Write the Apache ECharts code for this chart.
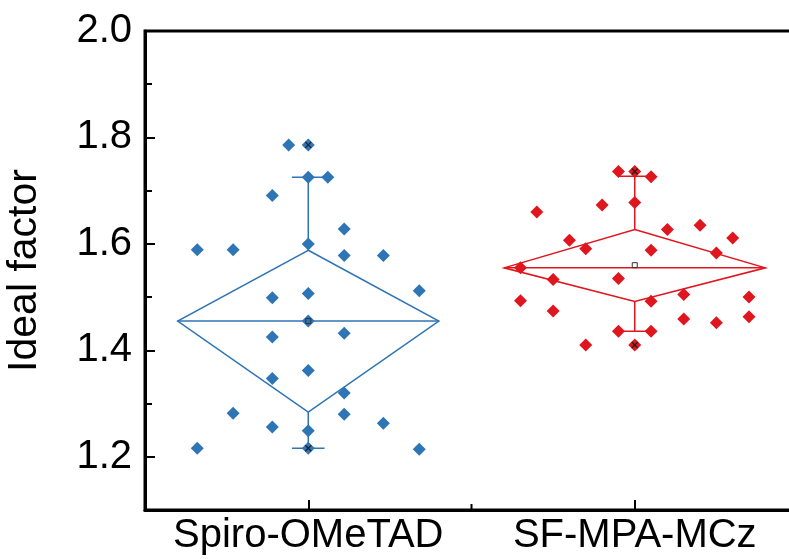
<!DOCTYPE html>
<html>
<head>
<meta charset="utf-8">
<script src="https://cdn.jsdelivr.net/npm/echarts@6/dist/echarts.min.js"></script>
<style>
html,body{margin:0;padding:0;background:#fff;}
#chart{width:789px;height:559px;}
</style>
</head>
<body>
<div id="chart"></div>
<script>
// ---- data ----
var categories = ['Spiro-OMeTAD', 'SF-MPA-MCz'];
var yTicks = [1.2, 1.4, 1.6, 1.8, 2.0];
var yMinorTicks = [1.3, 1.5, 1.7, 1.9];

// Spiro-OMeTAD: horizontal jitter (category units) and values
var spiroJitter = [-0.06, 0, 0, 0.06, -0.11, 0.11, 0, -0.34, -0.23, 0.11, 0.23, 0.34, 0, -0.11,
                   0, -0.11, 0.11, 0, -0.11, 0.11, -0.23, 0.11, -0.11, 0.23, 0, -0.34, 0, 0.34];
var spiroValues = [1.786, 1.786, 1.725, 1.725, 1.691, 1.628, 1.600, 1.589, 1.589, 1.578, 1.578, 1.512, 1.507, 1.499,
                   1.455, 1.425, 1.432, 1.362, 1.347, 1.320, 1.282, 1.280, 1.256, 1.263, 1.249, 1.216, 1.216, 1.214];

// SF-MPA-MCz
var sfJitter = [-0.05, 0, 0.05, 0, -0.30, -0.10, 0.10, 0.20, 0.30, -0.20, -0.15, 0.05, 0.25, -0.35,
                -0.25, -0.05, 0.15, 0.05, -0.35, 0.35, -0.25, 0.15, 0.25, 0.35, -0.05, 0.05, -0.15, 0];
var sfValues = [1.736, 1.736, 1.726, 1.678, 1.660, 1.673, 1.627, 1.635, 1.611, 1.607, 1.591, 1.588, 1.583, 1.555,
                1.533, 1.535, 1.505, 1.492, 1.493, 1.500, 1.474, 1.459, 1.452, 1.463, 1.436, 1.436, 1.410, 1.410];

// box statistics per group
var q1 = [1.284, 1.492];
var q3 = [1.588, 1.627];
var median = [1.455, 1.555];
var mean = [1.455, 1.560];
var whiskerLow = [1.216, 1.436];
var whiskerHigh = [1.725, 1.727];
var minVal = [1.216, 1.410];
var maxVal = [1.786, 1.736];

// ---- styles ----
var colors = ['#2e75b6', '#e0161e'];
var FONT = "'Liberation Sans', Arial, sans-serif";
var diamondHalf = 0.4;
var capHalf = 0.05;

function pts(jit, vals, center) {
  return vals.map(function (v, i) { return [center + jit[i], v]; });
}

var boxData = categories.map(function (c, i) {
  return [i + 1, q1[i], q3[i], median[i], mean[i], whiskerLow[i], whiskerHigh[i], minVal[i], maxVal[i], i];
});

function renderBox(params, api) {
  var cx = api.value(0);
  var gi = api.value(9);
  var col = colors[gi];
  var P = function (x, y) { return api.coord([x, y]); };
  var top = P(cx, api.value(2)), bot = P(cx, api.value(1));
  var lft = P(cx - diamondHalf, api.value(3)), rgt = P(cx + diamondHalf, api.value(3));
  var wh = P(cx, api.value(6)), wl = P(cx, api.value(5));
  var chL = P(cx - capHalf, api.value(6)), chR = P(cx + capHalf, api.value(6));
  var clL = P(cx - capHalf, api.value(5)), clR = P(cx + capHalf, api.value(5));
  var mn = P(cx, api.value(7)), mx = P(cx, api.value(8));
  var me = P(cx, api.value(4));
  var ls = { stroke: col, lineWidth: 1.5, fill: null };
  var children = [
    { type: 'polygon', shape: { points: [top, rgt, bot, lft] }, style: ls },
    { type: 'line', shape: { x1: lft[0], y1: lft[1], x2: rgt[0], y2: rgt[1] }, style: ls },
    { type: 'line', shape: { x1: top[0], y1: top[1], x2: wh[0], y2: wh[1] }, style: ls },
    { type: 'line', shape: { x1: bot[0], y1: bot[1], x2: wl[0], y2: wl[1] }, style: ls },
    { type: 'line', shape: { x1: chL[0], y1: chL[1], x2: chR[0], y2: chR[1] }, style: ls },
    { type: 'line', shape: { x1: clL[0], y1: clL[1], x2: clR[0], y2: clR[1] }, style: ls }
  ];
  [mn, mx].forEach(function (p) {
    var s = 3;
    children.push({ type: 'line', shape: { x1: p[0] - s, y1: p[1] - s, x2: p[0] + s, y2: p[1] + s }, style: { stroke: '#222', lineWidth: 1.2 } });
    children.push({ type: 'line', shape: { x1: p[0] - s, y1: p[1] + s, x2: p[0] + s, y2: p[1] - s }, style: { stroke: '#222', lineWidth: 1.2 } });
  });
  children.push({ type: 'rect', shape: { x: me[0] - 2.5, y: me[1] - 2.5, width: 5, height: 5 }, style: { stroke: '#333', lineWidth: 1, fill: null } });
  return { type: 'group', children: children };
}

var chart = echarts.init(document.getElementById('chart'), null, { renderer: 'canvas' });
chart.setOption({
  backgroundColor: '#ffffff',
  animation: false,
  grid: { left: 145, width: 653, top: 31, bottom: 49, outerBoundsMode: 'none', containLabel: false,
          show: true, borderColor: '#000', borderWidth: 3, backgroundColor: 'transparent' },
  xAxis: {
    type: 'value', min: 0.5, max: 2.5,
    axisLine: { show: true, lineStyle: { color: '#000', width: 3 } },
    axisTick: { show: true, inside: true, length: 10, customValues: [1, 2], lineStyle: { color: '#000', width: 2 } },
    minorTick: { show: false },
    splitLine: { show: false },
    axisLabel: {
      customValues: [1, 2], margin: 6,
      formatter: function (v) { return categories[Math.round(v) - 1] || ''; },
      color: '#000', fontSize: 40, fontFamily: FONT
    }
  },
  yAxis: [{
    type: 'value', min: 1.1, max: 2.0,
    name: 'Ideal factor', nameLocation: 'middle', nameGap: 100,
    nameTextStyle: { color: '#000', fontSize: 41, fontFamily: FONT },
    axisLine: { show: true, lineStyle: { color: '#000', width: 3 } },
    axisTick: { show: true, inside: true, length: 10, customValues: yTicks, lineStyle: { color: '#000', width: 2 } },
    splitLine: { show: false },
    axisLabel: {
      customValues: yTicks, margin: 13,
      formatter: function (v) { return v.toFixed(1); },
      color: '#000', fontSize: 40, fontFamily: FONT
    }
  }, {
    type: 'value', min: 1.1, max: 2.0, position: 'left',
    axisLine: { show: false },
    axisTick: { show: true, inside: true, length: 7, customValues: yMinorTicks, lineStyle: { color: '#000', width: 2 } },
    axisLabel: { show: false },
    splitLine: { show: false }
  }],
  series: [
    { type: 'scatter', name: categories[0], data: pts(spiroJitter, spiroValues, 1), symbol: 'diamond', symbolSize: 13,
      itemStyle: { color: colors[0], opacity: 1 }, z: 2 },
    { type: 'scatter', name: categories[1], data: pts(sfJitter, sfValues, 2), symbol: 'diamond', symbolSize: 13,
      itemStyle: { color: colors[1], opacity: 1 }, z: 2 },
    { type: 'custom', renderItem: renderBox, data: boxData, z: 3,
      encode: { x: 0, y: [1, 2, 3, 4, 5, 6, 7, 8] } },
    // short minor tick on x axis at the category boundary
    { type: 'custom', data: [[1.5, 1.1]], z: 4, silent: true,
      renderItem: function (p, api) {
        var c = api.coord([api.value(0), api.value(1)]);
        return { type: 'line', shape: { x1: c[0], y1: c[1], x2: c[0], y2: c[1] - 6 }, style: { stroke: '#000', lineWidth: 2 } };
      } }
  ]
});
</script>
</body>
</html>
